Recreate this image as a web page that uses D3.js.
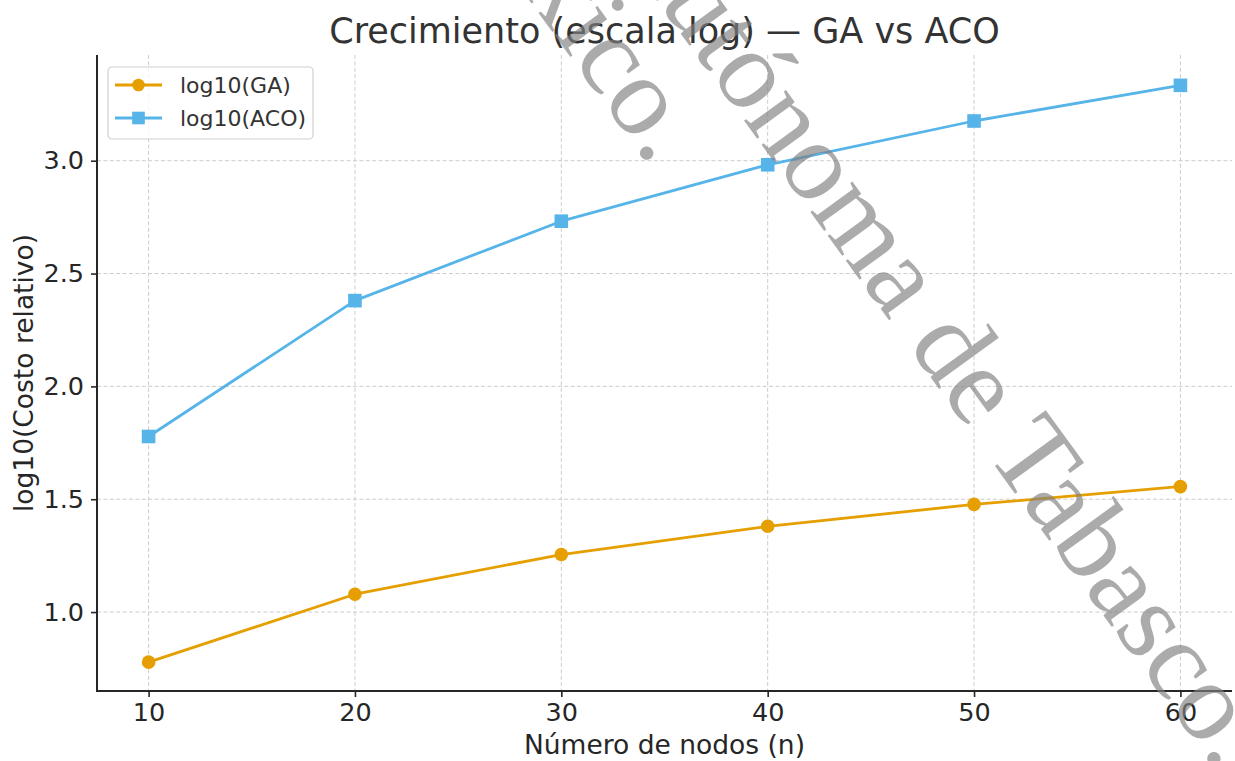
<!DOCTYPE html>
<html>
<head>
<meta charset="utf-8">
<script src="https://cdn.jsdelivr.net/npm/d3@7"></script>
<style>
  html, body { margin: 0; padding: 0; background: #fff; }
  svg { display: block; }
  text { font-family: "DejaVu Sans", sans-serif; }
</style>
</head>
<body>
<svg id="chart" width="1235" height="761"></svg>
<script>
// Number of nodes (x) and log10 of relative cost for each algorithm
const nodes = [10, 20, 30, 40, 50, 60];
const gaLog = [0.778, 1.079, 1.255, 1.380, 1.477, 1.556];
const acoLog = [1.778, 2.380, 2.732, 2.982, 3.176, 3.334];
const xTicks = [10, 20, 30, 40, 50, 60];
const yTicks = [1.0, 1.5, 2.0, 2.5, 3.0];
const seriesNames = ["log10(GA)", "log10(ACO)"];
const seriesColors = ["#E69F00", "#56B4E9"];
const watermarkLines = ["Universidad Juárez Autónoma de Tabasco.", "México."];

const plot = { left: 97, right: 1232, top: 56.5, bottom: 691 };
const ink = "#262626";

const svg = d3.select("#chart");

// Scales with a 5% margin around the data
const xPad = (d3.max(nodes) - d3.min(nodes)) * 0.05;
const x = d3.scaleLinear()
  .domain([d3.min(nodes) - xPad, d3.max(nodes) + xPad])
  .range([plot.left, plot.right]);

const allY = gaLog.concat(acoLog);
const yPad = (d3.max(allY) - d3.min(allY)) * 0.05;
const y = d3.scaleLinear()
  .domain([d3.min(allY) - yPad, d3.max(allY) + yPad])
  .range([plot.bottom, plot.top]);

// Dashed grid
const grid = svg.append("g").attr("class", "grid")
  .attr("stroke", "#cccccc").attr("stroke-width", 1).attr("stroke-dasharray", "4,2.4");
grid.selectAll("line.v").data(xTicks).join("line").attr("class", "v")
  .attr("x1", d => x(d)).attr("x2", d => x(d))
  .attr("y1", 55).attr("y2", plot.bottom);
grid.selectAll("line.h").data(yTicks).join("line").attr("class", "h")
  .attr("y1", d => y(d)).attr("y2", d => y(d))
  .attr("x1", plot.left).attr("x2", plot.right);

// Axes
const xAxis = svg.append("g")
  .attr("transform", `translate(0,${plot.bottom})`)
  .call(d3.axisBottom(x).tickValues(xTicks).tickFormat(d3.format("d")).tickSize(6).tickPadding(6));
const yAxis = svg.append("g")
  .attr("transform", `translate(${plot.left},0)`)
  .call(d3.axisLeft(y).tickValues(yTicks).tickFormat(d3.format(".1f")).tickSize(6).tickPadding(7));

[xAxis, yAxis].forEach(a => {
  a.select(".domain").remove();
  a.selectAll(".tick line").attr("stroke", ink).attr("stroke-width", 1.6);
  a.selectAll(".tick text").attr("fill", ink).style("font-size", "25.5px")
    .style("font-family", "DejaVu Sans, sans-serif");
});
xAxis.selectAll(".tick text").attr("dy", "0.71em");

// Spines: left and bottom only
svg.append("line").attr("x1", plot.left).attr("x2", plot.left)
  .attr("y1", 55).attr("y2", plot.bottom + 1)
  .attr("stroke", ink).attr("stroke-width", 2);
svg.append("line").attr("x1", plot.left - 1).attr("x2", plot.right)
  .attr("y1", plot.bottom).attr("y2", plot.bottom)
  .attr("stroke", ink).attr("stroke-width", 2);

// Series
const series = [
  { name: seriesNames[0], values: gaLog, color: seriesColors[0], marker: "circle" },
  { name: seriesNames[1], values: acoLog, color: seriesColors[1], marker: "square" }
];

const line = d3.line().x((d, i) => x(nodes[i])).y(d => y(d));

series.forEach(s => {
  const g = svg.append("g");
  g.append("path").datum(s.values)
    .attr("d", line).attr("fill", "none")
    .attr("stroke", s.color).attr("stroke-width", 2.8)
    .attr("stroke-linejoin", "round").attr("stroke-linecap", "square");
  if (s.marker === "circle") {
    g.selectAll("circle").data(s.values).join("circle")
      .attr("cx", (d, i) => x(nodes[i])).attr("cy", d => y(d))
      .attr("r", 6.8).attr("fill", s.color);
  } else {
    g.selectAll("rect").data(s.values).join("rect")
      .attr("x", (d, i) => x(nodes[i]) - 6.8).attr("y", d => y(d) - 6.8)
      .attr("width", 13.6).attr("height", 13.6).attr("fill", s.color);
  }
});

// Legend
const legend = svg.append("g").attr("transform", "translate(108,67)");
legend.append("rect").attr("x", 0).attr("y", 0).attr("width", 205).attr("height", 72)
  .attr("rx", 4).attr("fill", "#fff").attr("fill-opacity", 0.8)
  .attr("stroke", "#d0d0d0").attr("stroke-width", 1.2);
series.forEach((s, i) => {
  const cy = 18 + i * 33;
  const row = legend.append("g").attr("transform", `translate(0,${cy})`);
  row.append("line").attr("x1", 7).attr("x2", 54).attr("y1", 0).attr("y2", 0)
    .attr("stroke", s.color).attr("stroke-width", 2.8);
  if (s.marker === "circle") {
    row.append("circle").attr("cx", 30.5).attr("cy", 0).attr("r", 6.3).attr("fill", s.color);
  } else {
    row.append("rect").attr("x", 24.2).attr("y", -6.3).attr("width", 12.6).attr("height", 12.6).attr("fill", s.color);
  }
  row.append("text").attr("x", 72).attr("y", 8).attr("fill", "#333")
    .style("font-size", "22px").text(s.name);
});

// Titles
svg.append("text").attr("x", (plot.left + plot.right) / 2).attr("y", 43)
  .attr("text-anchor", "middle").attr("fill", "#333").style("font-size", "35px")
  .text("Crecimiento (escala log) — GA vs ACO");
svg.append("text").attr("x", (plot.left + plot.right) / 2).attr("y", 754)
  .attr("text-anchor", "middle").attr("fill", ink).style("font-size", "26.5px")
  .text("Número de nodos (n)");
svg.append("text")
  .attr("transform", `translate(33,${(55 + plot.bottom) / 2}) rotate(-90)`)
  .attr("text-anchor", "middle").attr("fill", ink).style("font-size", "26.5px")
  .text("log10(Costo relativo)");

// Diagonal watermark on top
const wm = svg.append("g")
  .attr("transform", "translate(1218,773) rotate(54)")
  .attr("fill", "#7f7f7f").attr("fill-opacity", 0.66);
wm.append("text").attr("x", 0).attr("y", 0).attr("text-anchor", "end")
  .style("font-family", "Liberation Serif, serif").style("font-size", "113px")
  .text(watermarkLines[0]);
wm.append("text").attr("x", -823).attr("y", 103).attr("text-anchor", "end")
  .style("font-family", "Liberation Serif, serif").style("font-size", "113px")
  .text(watermarkLines[1]);
</script>
</body>
</html>
